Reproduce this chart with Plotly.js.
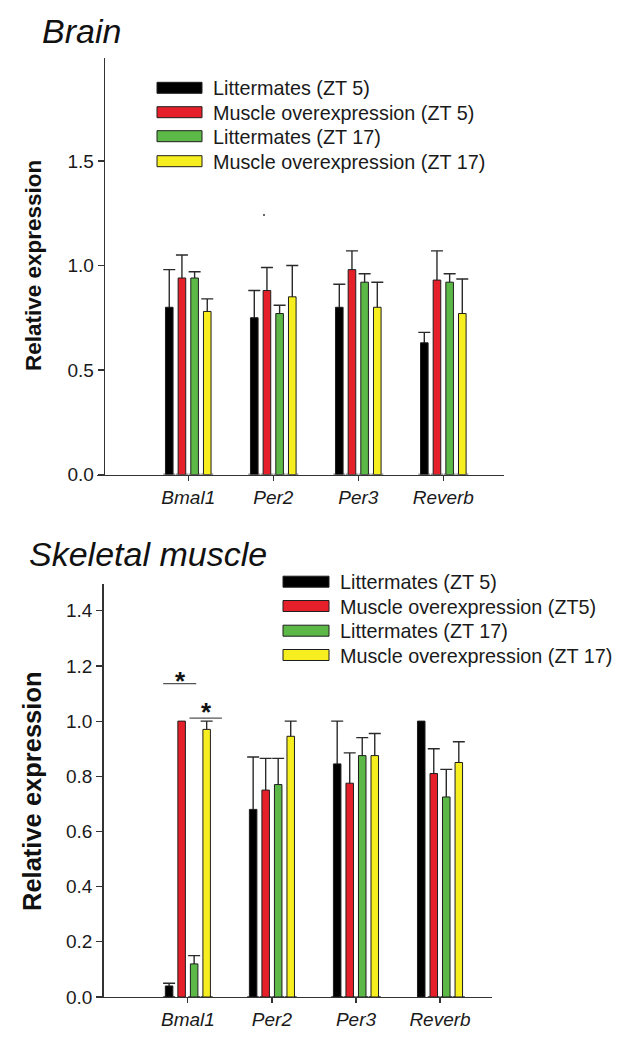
<!DOCTYPE html>
<html>
<head>
<meta charset="utf-8">
<script src="https://cdn.plot.ly/plotly-3.0.1.min.js"></script>
<style>
  html, body { margin: 0; padding: 0; background: #ffffff; }
  #chart { width: 617px; height: 1041px; }
</style>
</head>
<body>
<div id="chart"></div>
<script>
// ---------------- data ----------------
const genes = ['Bmal1', 'Per2', 'Per3', 'Reverb'];

const brainNames = ['Littermates (ZT 5)', 'Muscle overexpression (ZT 5)', 'Littermates (ZT 17)', 'Muscle overexpression (ZT 17)'];
const muscleNames = ['Littermates (ZT 5)', 'Muscle overexpression (ZT5)', 'Littermates (ZT 17)', 'Muscle overexpression (ZT 17)'];

const brainLitZT5 = [0.80, 0.75, 0.80, 0.63];
const brainLitZT5Err = [0.18, 0.13, 0.11, 0.05];
const brainOverZT5 = [0.94, 0.88, 0.98, 0.93];
const brainOverZT5Err = [0.11, 0.11, 0.09, 0.14];
const brainLitZT17 = [0.94, 0.77, 0.92, 0.92];
const brainLitZT17Err = [0.03, 0.04, 0.04, 0.04];
const brainOverZT17 = [0.78, 0.85, 0.80, 0.77];
const brainOverZT17Err = [0.06, 0.15, 0.12, 0.165];

const muscleLitZT5 = [0.04, 0.68, 0.845, 1.00];
const muscleLitZT5Err = [0.01, 0.19, 0.155, NaN];
const muscleOverZT5 = [1.00, 0.75, 0.775, 0.81];
const muscleOverZT5Err = [NaN, 0.115, 0.11, 0.09];
const muscleLitZT17 = [0.12, 0.77, 0.875, 0.725];
const muscleLitZT17Err = [0.03, 0.095, 0.065, 0.10];
const muscleOverZT17 = [0.97, 0.945, 0.875, 0.85];
const muscleOverZT17Err = [0.03, 0.055, 0.08, 0.075];

const brainTitle = 'Brain';
const muscleTitle = 'Skeletal muscle';
const yTitle = 'Relative expression';
const sigMark = '*';

// ---------------- styling ----------------
const W = 617, H = 1041;
const FONT = 'Liberation Sans, Arial, Helvetica, sans-serif';
const colors = ['#000000', '#e5202a', '#5cb947', '#f7ee1f'];
const edge = '#1e1e1e';
const axisCol = '#333333';
const px = v => v / W;
const py = v => 1 - v / H;

function panelTraces(seriesVals, seriesErr, names, xa, ya, prefix) {
  const errTraces = [], barTraces = [];
  seriesVals.forEach((vals, i) => {
    const errs = seriesErr[i];
    errTraces.push({
      type: 'bar', x: genes, y: vals, xaxis: xa, yaxis: ya,
      offsetgroup: prefix + i, name: names[i], showlegend: false, hoverinfo: 'skip',
      marker: { color: 'rgba(0,0,0,0)', line: { width: 0 } },
      error_y: {
        type: 'data', symmetric: false, array: errs,
        arrayminus: vals.map((v, j) => isNaN(errs[j]) ? NaN : v),
        color: '#2a2a2a', thickness: 1.4, width: 6
      }
    });
    barTraces.push({
      type: 'bar', x: genes, y: vals, xaxis: xa, yaxis: ya,
      offsetgroup: prefix + i, name: names[i], showlegend: false,
      marker: { color: colors[i], line: { color: edge, width: 1 } }
    });
  });
  return errTraces.concat(barTraces);
}

const traces = [].concat(
  panelTraces([brainLitZT5, brainOverZT5, brainLitZT17, brainOverZT17],
              [brainLitZT5Err, brainOverZT5Err, brainLitZT17Err, brainOverZT17Err],
              brainNames, 'x', 'y', 'b'),
  panelTraces([muscleLitZT5, muscleOverZT5, muscleLitZT17, muscleOverZT17],
              [muscleLitZT5Err, muscleOverZT5Err, muscleLitZT17Err, muscleOverZT17Err],
              muscleNames, 'x2', 'y2', 'm')
);

const tickFontY = { family: FONT, size: 19, color: '#1a1a1a' };
const tickFontX = { family: FONT, size: 19, color: '#1a1a1a', style: 'italic' };

const xCommon = {
  type: 'category', showgrid: false, zeroline: false, showline: true,
  linecolor: axisCol, linewidth: 1.3, ticks: 'outside', ticklen: 5, tickwidth: 1.2,
  tickcolor: axisCol, tickfont: tickFontX, fixedrange: true
};
const yCommon = {
  showgrid: false, zeroline: false, showline: true, linecolor: axisCol, linewidth: 1.3,
  ticks: 'outside', ticklen: 6, tickwidth: 1.2, tickcolor: axisCol, tickfont: tickFontY,
  tickformat: '.1f', fixedrange: true
};

// legends drawn as swatches + text
const shapes = [];
const annotations = [];
function legend(names, swX0, swX1, textX, rows) {
  names.forEach((n, i) => {
    shapes.push({
      type: 'rect', xref: 'paper', yref: 'paper',
      x0: px(swX0), x1: px(swX1), y0: py(rows[i] + 5.5), y1: py(rows[i] - 5.5),
      fillcolor: colors[i], line: { color: edge, width: 1 }
    });
    annotations.push({
      xref: 'paper', yref: 'paper', x: px(textX), y: py(rows[i] + 0.5),
      xanchor: 'left', yanchor: 'middle', showarrow: false, text: n,
      font: { family: FONT, size: 19.8, color: '#1a1a1a' }
    });
  });
}
legend(brainNames, 157, 202, 211, [87.8, 112.2, 136.2, 161.2]);
legend(muscleNames, 283, 329, 338, [581.7, 606, 630.7, 655]);

// panel titles
annotations.push({
  xref: 'paper', yref: 'paper', x: px(40), y: py(31), xanchor: 'left', yanchor: 'middle',
  showarrow: false, text: brainTitle, font: { family: FONT, size: 34, color: '#111', style: 'italic' }
});
annotations.push({
  xref: 'paper', yref: 'paper', x: px(27), y: py(554), xanchor: 'left', yanchor: 'middle',
  showarrow: false, text: muscleTitle, font: { family: FONT, size: 34, color: '#111', style: 'italic' }
});
// y-axis titles
annotations.push({
  xref: 'paper', yref: 'paper', x: px(33), y: py(266), xanchor: 'center', yanchor: 'middle',
  textangle: -90, showarrow: false, text: '<b>' + yTitle + '</b>',
  font: { family: FONT, size: 22.5, color: '#111' }
});
annotations.push({
  xref: 'paper', yref: 'paper', x: px(32), y: py(791), xanchor: 'center', yanchor: 'middle',
  textangle: -90, showarrow: false, text: '<b>' + yTitle + '</b>',
  font: { family: FONT, size: 25.5, color: '#111' }
});

// significance brackets (Bmal1, skeletal muscle)
shapes.push({ type: 'line', xref: 'x2', yref: 'y2', x0: -0.294, x1: 0.099, y0: 1.1356, y1: 1.1356,
  line: { color: '#555', width: 1.3 } });
shapes.push({ type: 'line', xref: 'x2', yref: 'y2', x0: 0.019, x1: 0.405, y0: 1.0109, y1: 1.0109,
  line: { color: '#555', width: 1.3 } });
annotations.push({ xref: 'x2', yref: 'y2', x: -0.083, y: 1.161, yshift: -4, showarrow: false,
  text: '<b>' + sigMark + '</b>', font: { family: FONT, size: 26, color: '#111' } });
annotations.push({ xref: 'x2', yref: 'y2', x: 0.218, y: 1.046, yshift: -4, showarrow: false,
  text: '<b>' + sigMark + '</b>', font: { family: FONT, size: 26, color: '#111' } });

// stray dot present in the original figure
shapes.push({ type: 'circle', xref: 'paper', yref: 'paper',
  x0: px(263), x1: px(265), y0: py(216), y1: py(214), fillcolor: '#333', line: { width: 0 } });

const layout = {
  width: W, height: H,
  margin: { l: 0, r: 0, t: 0, b: 0, pad: 0 },
  paper_bgcolor: '#ffffff', plot_bgcolor: '#ffffff',
  showlegend: false,
  barmode: 'group', bargap: 0.404, bargroupgap: 0.4,
  xaxis: Object.assign({}, xCommon, { domain: [px(97.3), px(504)], anchor: 'y', range: [-1.07, 3.714] }),
  yaxis: Object.assign({}, yCommon, { domain: [py(474.5), py(58.3)], anchor: 'free', position: px(103.7),
    range: [0, 1.991], tick0: 0, dtick: 0.5 }),
  xaxis2: Object.assign({}, xCommon, { domain: [px(103.5), px(492.3)], anchor: 'y2', range: [-1.004, 3.622] }),
  yaxis2: Object.assign({}, yCommon, { domain: [py(997), py(584)], anchor: 'x2',
    range: [0, 1.497], tick0: 0, dtick: 0.2 }),
  shapes: shapes,
  annotations: annotations,
  font: { family: FONT, color: '#1a1a1a' }
};

Plotly.newPlot('chart', traces, layout, { staticPlot: true, displayModeBar: false });
</script>
</body>
</html>
